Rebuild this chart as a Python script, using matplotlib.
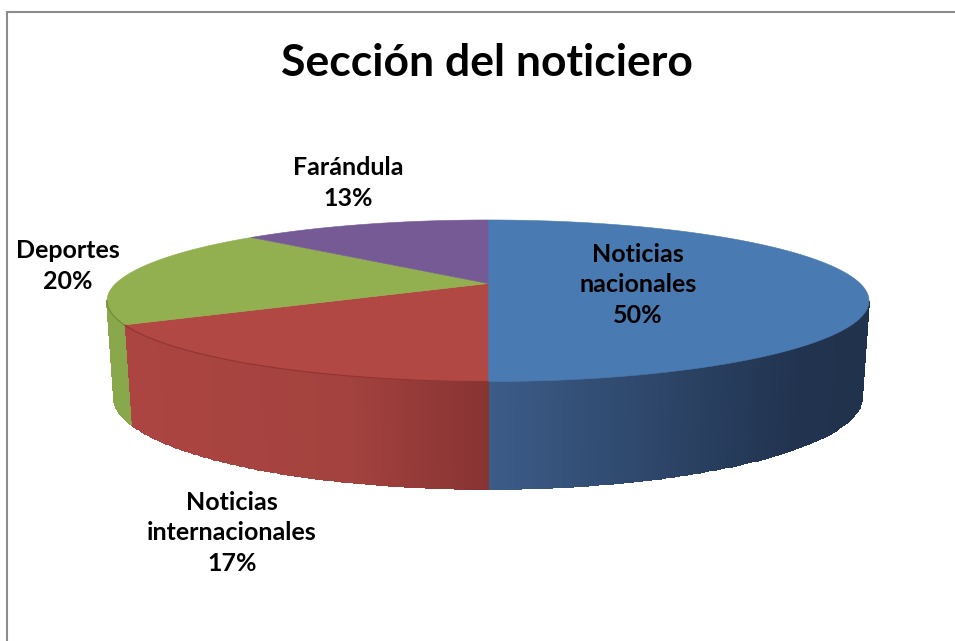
import numpy as np
import matplotlib
matplotlib.use("Agg")
import matplotlib.pyplot as plt

plt.rcParams['font.family'] = ['Lato', 'DejaVu Sans']

title = "Sección del noticiero"
categories = ["Noticias\nnacionales", "Noticias\ninternacionales", "Deportes", "Farándula"]
values = [50, 17, 20, 13]
top_colors = ["#4a7ab2", "#b14844", "#92b050", "#765a96"]
label_pos = [(638, 285), (232, 533), (68, 266), (348, 183)]

# wall shading, colour stops along x in pixels
wall_x = [[488, 800, 870], [120, 350, 420, 488], [100, 140]]
wall_rgb = [[(60, 92, 136), (33, 51, 79), (33, 50, 76)],
            [(172, 69, 65), (163, 66, 63), (148, 58, 56), (135, 52, 51)],
            [(137, 168, 76), (137, 168, 76)]]

# perspective of the pie disc
CX = 488
TOP_Y = 283.5
BOTTOM_Y = 377
WIDTH = 372.2
TILT = 0.2136
TOP_C = 77.1
BOTTOM_C = 88
BOTTOM_SCALE = 0.982


def project(theta, plane):
    u, v = np.sin(theta), np.cos(theta)
    d = 1 + TILT * v
    if plane == "top":
        return CX + WIDTH * u / d, TOP_Y - TOP_C * v / d
    return CX + BOTTOM_SCALE * WIDTH * u / d, BOTTOM_Y - BOTTOM_C * v / d


fig = plt.figure(figsize=(9.55, 6.41), dpi=100)
ax = fig.add_axes([0, 0, 1, 1])
ax.set_xlim(0, 955)
ax.set_ylim(641, 0)
ax.axis("off")

# chart border, only top and left show
ax.plot([6.5, 6.5, 955], [641, 11.5, 11.5], color="#8c8c8c", lw=1.5, solid_joinstyle="miter")

edges = np.radians(np.cumsum([0] + values) / sum(values) * 360)
wall_start = np.arccos(-TILT)
wall_end = 2 * np.pi - wall_start

for i in range(3):
    a = max(edges[i], wall_start)
    b = min(edges[i + 1], wall_end)
    t = np.linspace(a, b, 120)
    x1, y1 = project(t, "top")
    x2, y2 = project(t, "bottom")
    xm = (x1[:-1] + x1[1:]) / 2
    rgb = np.array([np.interp(xm, wall_x[i], [c[k] for c in wall_rgb[i]]) for k in range(3)]).T / 255
    ax.pcolormesh(np.array([x1, x2]), np.array([y1, y2]), rgb[np.newaxis, :, :],
                  shading="flat", edgecolor="face", linewidth=0.3)

for i in range(4):
    t = np.linspace(edges[i], edges[i + 1], 200)
    x, y = project(t, "top")
    ax.fill(np.r_[CX, x], np.r_[TOP_Y, y], color=top_colors[i], lw=0.4)

# darker rim where the top meets the wall
t = np.linspace(edges[1], edges[2], 100)
ax.plot(*project(t, "top"), color="#8e3533", lw=0.8)
t = np.linspace(edges[2], wall_end, 30)
ax.plot(*project(t, "top"), color="#6f8a3c", lw=0.8)

ax.text(487, 63, title, ha="center", va="center", fontsize=32, fontweight="bold", color="black")
for name, val, pos in zip(categories, values, label_pos):
    ax.text(pos[0], pos[1], f"{name}\n{val}%", ha="center", va="center", fontsize=18,
            fontweight="bold", color="black", linespacing=1.42)

fig.savefig("out.png", dpi=100)
